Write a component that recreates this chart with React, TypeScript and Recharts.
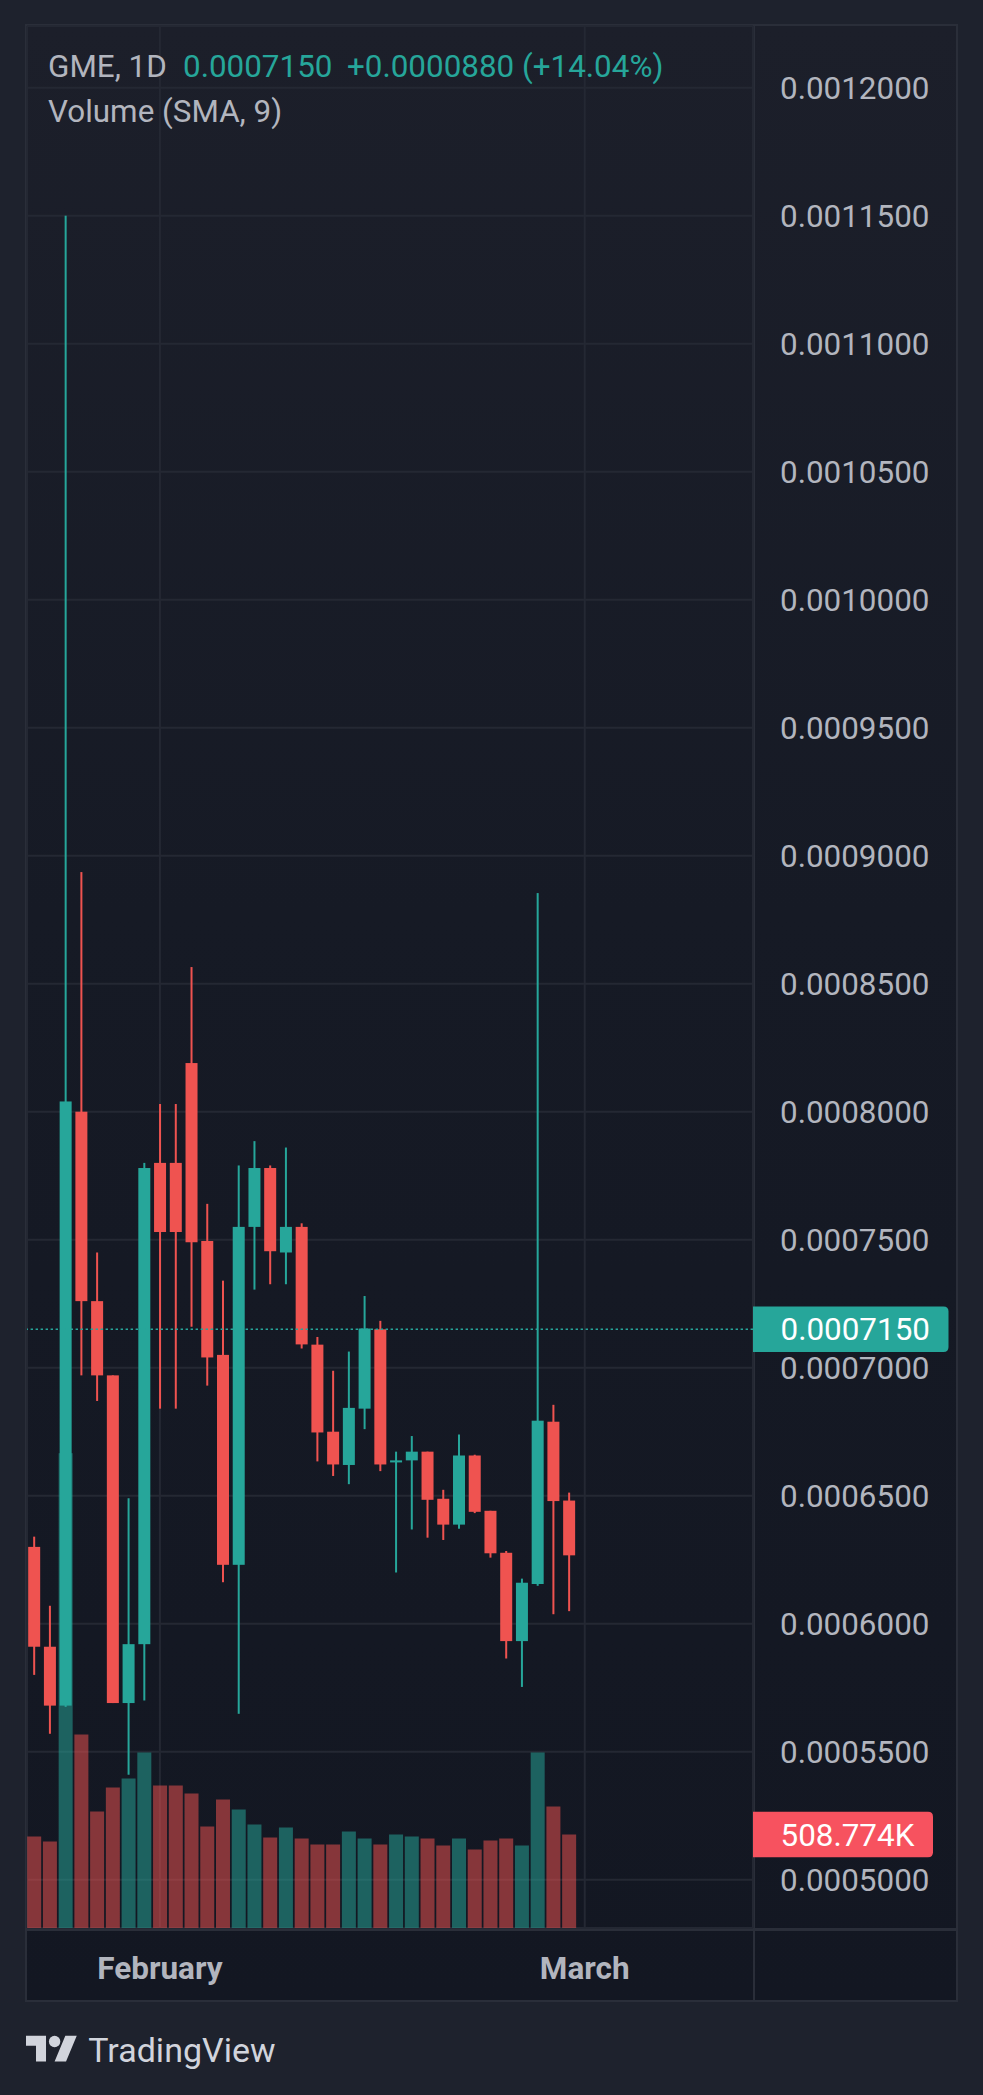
import React from 'react';
import { ComposedChart, Bar, XAxis, YAxis, CartesianGrid, ReferenceLine } from 'recharts';

const dates = [
  'Jan 24', 'Jan 25', 'Jan 26', 'Jan 27', 'Jan 28', 'Jan 29', 'Jan 30', 'Jan 31',
  'Feb 1', 'Feb 2', 'Feb 3', 'Feb 4', 'Feb 5', 'Feb 6', 'Feb 7', 'Feb 8', 'Feb 9',
  'Feb 10', 'Feb 11', 'Feb 12', 'Feb 13', 'Feb 14', 'Feb 15', 'Feb 16', 'Feb 17',
  'Feb 18', 'Feb 19', 'Feb 20', 'Feb 21', 'Feb 22', 'Feb 23', 'Feb 24', 'Feb 25',
  'Feb 26', 'Feb 27',
];
const opens = [
  0.000630, 0.000591, 0.000568, 0.000800, 0.000726, 0.000697, 0.000569, 0.000592,
  0.000780, 0.000780, 0.000819, 0.0007495, 0.000705, 0.000623, 0.000755, 0.000778,
  0.000745, 0.000755, 0.000709, 0.000675, 0.000662, 0.000684, 0.000715, 0.000663,
  0.0006638, 0.0006672, 0.0006488, 0.0006387, 0.0006657, 0.0006441, 0.0006277,
  0.0005932, 0.0006155, 0.0006789, 0.0006481,
];
const highs = [
  0.000634, 0.000607, 0.001150, 0.0008936, 0.000745, 0.000697, 0.000649, 0.000780,
  0.000803, 0.000803, 0.0008565, 0.000764, 0.000734, 0.000779, 0.0007885, 0.000779,
  0.000786, 0.0007564, 0.000712, 0.0006988, 0.0007063, 0.000728, 0.0007183, 0.0006672,
  0.0006733, 0.0006672, 0.0006523, 0.0006739, 0.000666, 0.0006441, 0.0006284,
  0.0006176, 0.0008854, 0.0006855, 0.0006512,
];
const lows = [
  0.000580, 0.000557, 0.0005675, 0.000697, 0.000687, 0.000569, 0.000541, 0.000570,
  0.000684, 0.000684, 0.000716, 0.000693, 0.0006162, 0.0005648, 0.0007305, 0.0007326,
  0.0007326, 0.0007075, 0.0006634, 0.0006577, 0.0006545, 0.000676, 0.0006596, 0.000620,
  0.0006368, 0.0006336, 0.0006327, 0.0006371, 0.0006432, 0.0006258, 0.0005864,
  0.0005753, 0.0006148, 0.0006037, 0.0006049,
];
const closes = [
  0.000591, 0.000568, 0.000804, 0.000726, 0.000697, 0.000569, 0.000592, 0.000778,
  0.000753, 0.000753, 0.000749, 0.000704, 0.000623, 0.000755, 0.000778, 0.0007455,
  0.000755, 0.0007091, 0.0006747, 0.0006622, 0.0006843, 0.0007153, 0.0006622, 0.0006638,
  0.0006672, 0.0006484, 0.0006387, 0.0006657, 0.0006437, 0.0006275, 0.0005932,
  0.000616, 0.0006793, 0.0006479, 0.0006267,
];
const volumes = [
  497900, 470700, 2583600, 1052900, 633900, 764500, 813500, 955000, 775400, 775400,
  731900, 552300, 699200, 644800, 563200, 492400, 546900, 487000, 454400, 454400,
  525100, 487000, 454400, 508800, 497900, 487000, 448900, 487000, 427200, 476100,
  487000, 448900, 955000, 661100, 508774,
];
const priceTicks = [
  0.0005, 0.00055, 0.0006, 0.00065, 0.0007, 0.00075, 0.0008, 0.00085,
  0.0009, 0.00095, 0.001, 0.00105, 0.0011, 0.00115, 0.0012,
];
const timeTickIndex = [8, 35];
const timeTickLabels = ['February', 'March'];
const symbolLabel = 'GME, 1D';
const lastPrice = 0.000715;
const priceChange = 0.000088;
const priceChangePct = 14.04;
const volumeTitle = 'Volume (SMA, 9)';

const UP = '#26a69a';
const DOWN = '#ef5350';
const TEXT = '#b2b5be';
const GRID = '#242833';
const BORDER = '#2a2e39';
const FONT = 'Roboto, "Noto Sans", sans-serif';

const X_DOMAIN: [number, number] = [-0.448, 45.694];
const PRICE_DOMAIN: [number, number] = [0.00048113, 0.0012241];
const VOL_DOMAIN: [number, number] = [0, 10349500];

const rows = dates.map((d, i) => ({
  i,
  date: d,
  open: opens[i],
  high: highs[i],
  low: lows[i],
  close: closes[i],
  volume: volumes[i],
}));

const Candle = (props: any) => {
  const { x, y, width, height, payload } = props;
  if (x == null || y == null) return null;
  const top = Math.min(y, y + height);
  const h = Math.abs(height);
  const { open, close, high, low } = payload;
  const cx = x + width / 2;
  const ratio = h / (high - low);
  const yOf = (v: number) => top + (high - v) * ratio;
  const color = close >= open ? UP : DOWN;
  const bTop = yOf(Math.max(open, close));
  const bBot = yOf(Math.min(open, close));
  const bh = Math.max(bBot - bTop, 1.6);
  return (
    <g>
      <rect x={cx - 1} y={top} width={2} height={h} fill={color} />
      <rect x={cx - 6} y={bTop} width={12} height={bh} fill={color} />
    </g>
  );
};

const VolBar = (props: any) => {
  const { x, y, width, height, payload } = props;
  if (x == null || y == null) return null;
  const top = Math.min(y, y + height);
  const h = Math.abs(height);
  const color = payload.close >= payload.open ? UP : DOWN;
  const cx = x + width / 2;
  return <rect x={cx - 7} y={top} width={14} height={h} fill={color} fillOpacity={0.52} />;
};

const PriceTick = (props: any) => {
  const { x, y, payload } = props;
  return (
    <text x={x + 27} y={y + 11.2} fill={TEXT} fontSize={31.4} fontFamily={FONT} textAnchor="start">
      {Number(payload.value).toFixed(7)}
    </text>
  );
};

const TimeTick = (props: any) => {
  const { x, y, payload } = props;
  const idx = timeTickIndex.indexOf(payload.value);
  return (
    <text x={x} y={y + 51} fill={TEXT} fontSize={31.5} fontWeight={700} fontFamily={FONT} textAnchor="middle">
      {idx >= 0 ? timeTickLabels[idx] : ''}
    </text>
  );
};

const sideLabel = (text: string, fill: string, w: number) => (props: any) => {
  const vb = props.viewBox || {};
  const x0 = vb.x + vb.width;
  const yc = vb.y;
  const h = 45.6;
  const r = 5;
  const t = yc - h / 2;
  const d = `M${x0},${t} H${x0 + w - r} Q${x0 + w},${t} ${x0 + w},${t + r} V${t + h - r} Q${x0 + w},${t + h} ${x0 + w - r},${t + h} H${x0} Z`;
  return (
    <g>
      <path d={d} fill={fill} />
      <text x={x0 + 27.5} y={yc + 11.2} fill="#ffffff" fontSize={31.4} fontFamily={FONT}>
        {text}
      </text>
    </g>
  );
};

const lastVolume = volumes[volumes.length - 1];
const lastVolText = (lastVolume / 1000).toFixed(3) + 'K';
const lastVolUp = closes[closes.length - 1] >= opens[opens.length - 1];

export default function App() {
  return (
    <div
      style={{
        position: 'absolute',
        left: 0,
        top: 0,
        width: 983,
        height: 2095,
        background: '#1e222d',
        overflow: 'hidden',
        fontFamily: FONT,
      }}
    >
      <div
        style={{
          position: 'absolute',
          left: 25,
          top: 24,
          width: 933,
          height: 1978,
          boxSizing: 'border-box',
          border: `2px solid ${BORDER}`,
          background: 'linear-gradient(180deg, #1c1f2a 0%, #161a25 45%, #131722 100%)',
        }}
      />
      <div style={{ position: 'absolute', left: 753, top: 25, width: 2, height: 1976, background: BORDER }} />
      <div style={{ position: 'absolute', left: 26, top: 1928, width: 931, height: 2.5, background: BORDER }} />
      <div style={{ position: 'absolute', left: 0, top: 0 }}>
        <ComposedChart
          width={983}
          height={2095}
          data={rows}
          margin={{ top: 26, right: 27, bottom: 94, left: 27 }}
        >
          <XAxis
            xAxisId="c"
            dataKey="i"
            type="number"
            domain={X_DOMAIN}
            allowDataOverflow
            ticks={timeTickIndex}
            interval={0}
            tick={<TimeTick />}
            tickLine={false}
            axisLine={false}
            tickSize={0}
            tickMargin={0}
            height={73}
          />
          <XAxis xAxisId="v" dataKey="i" type="number" domain={X_DOMAIN} allowDataOverflow hide />
          <YAxis
            yAxisId="p"
            orientation="right"
            type="number"
            domain={PRICE_DOMAIN}
            allowDataOverflow
            ticks={priceTicks}
            interval={0}
            width={203}
            tick={<PriceTick />}
            tickLine={false}
            axisLine={false}
            tickSize={0}
            tickMargin={0}
          />
          <YAxis yAxisId="v" type="number" domain={VOL_DOMAIN} allowDataOverflow hide />
          <CartesianGrid xAxisId="c" yAxisId="p" stroke={GRID} strokeWidth={2} />
          <Bar
            xAxisId="v"
            yAxisId="v"
            dataKey="volume"
            barSize={14}
            shape={<VolBar />}
            isAnimationActive={false}
          />
          <Bar
            xAxisId="c"
            yAxisId="p"
            dataKey={(d: any) => [d.low, d.high]}
            barSize={12}
            shape={<Candle />}
            isAnimationActive={false}
          />
          <ReferenceLine
            xAxisId="c"
            yAxisId="p"
            y={lastPrice}
            stroke={UP}
            strokeWidth={1.6}
            strokeDasharray="2.4 2.6"
            label={sideLabel(lastPrice.toFixed(7), UP, 195.5)}
          />
          <ReferenceLine
            xAxisId="v"
            yAxisId="v"
            y={lastVolume}
            stroke="none"
            strokeOpacity={0}
            label={sideLabel(lastVolText, lastVolUp ? UP : '#f7525f', 180)}
          />
        </ComposedChart>
      </div>
      <svg width={983} height={2095} style={{ position: 'absolute', left: 0, top: 0, pointerEvents: 'none' }}>
        <text x={48} y={76.7} fontSize={31.4} fontFamily={FONT} fill={TEXT}>{symbolLabel}</text>
        <text x={183} y={76.7} fontSize={31.4} fontFamily={FONT} fill={UP}>{lastPrice.toFixed(7)}</text>
        <text x={347} y={76.7} fontSize={31.4} fontFamily={FONT} fill={UP}>
          {'+' + priceChange.toFixed(7) + ' (+' + priceChangePct.toFixed(2) + '%)'}
        </text>
        <text x={48} y={121.7} fontSize={31.4} fontFamily={FONT} fill={TEXT}>{volumeTitle}</text>
        <g transform="translate(26, 2030) scale(1.43)" fill="#d1d4dc">
          <path d="M14 22H7V11H0V4h14v18zM28 22h-8l7.5-18h8L28 22z" />
          <circle cx={20} cy={8} r={4} />
        </g>
        <text x={88.3} y={2061.7} fontSize={34} fontFamily={FONT} fill="#d1d4dc">TradingView</text>
      </svg>
    </div>
  );
}
